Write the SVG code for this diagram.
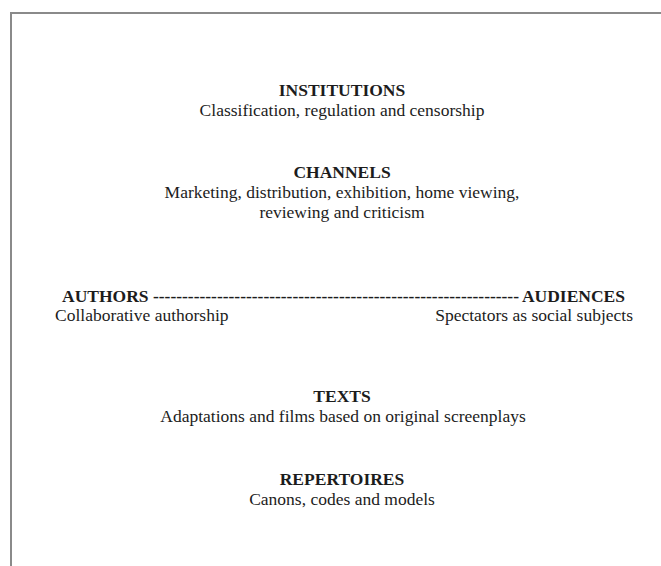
<svg xmlns="http://www.w3.org/2000/svg" width="661" height="566" viewBox="0 0 661 566">
  <style>
    text { font-family: "Liberation Serif", "Times New Roman", serif; font-size: 17.5px; fill: #1c1c1c; }
    .head { font-weight: bold; }
    .mid { text-anchor: middle; }
    .end { text-anchor: end; }
    .frame { fill: none; stroke: #8a8a8a; stroke-width: 2; }
  </style>
  <rect width="661" height="566" fill="#ffffff"/>
  <!-- open frame: top and left edges only -->
  <path class="frame" d="M11,567 V13 H662"/>

  <g id="institutions">
    <text class="head mid" x="342" y="96">INSTITUTIONS</text>
    <text class="mid" x="342" y="116">Classification, regulation and censorship</text>
  </g>

  <g id="channels">
    <text class="head mid" x="342" y="178">CHANNELS</text>
    <text class="mid" x="342" y="198">Marketing, distribution, exhibition, home viewing,</text>
    <text class="mid" x="342" y="218">reviewing and criticism</text>
  </g>

  <g id="authors">
    <text class="head" x="62" y="302">AUTHORS</text>
    <text x="55" y="321">Collaborative authorship</text>
  </g>

  <g id="audiences">
    <text class="head end" x="625" y="302">AUDIENCES</text>
    <text class="end" x="633" y="321">Spectators as social subjects</text>
  </g>

  <g id="connectors">
    <text class="head" x="153" y="302" textLength="366" lengthAdjust="spacing">---------------------------------------------------------------</text>
  </g>

  <g id="texts">
    <text class="head mid" x="342" y="402">TEXTS</text>
    <text class="mid" x="343" y="422">Adaptations and films based on original screenplays</text>
  </g>

  <g id="repertoires">
    <text class="head mid" x="342" y="485">REPERTOIRES</text>
    <text class="mid" x="342" y="505">Canons, codes and models</text>
  </g>
</svg>
